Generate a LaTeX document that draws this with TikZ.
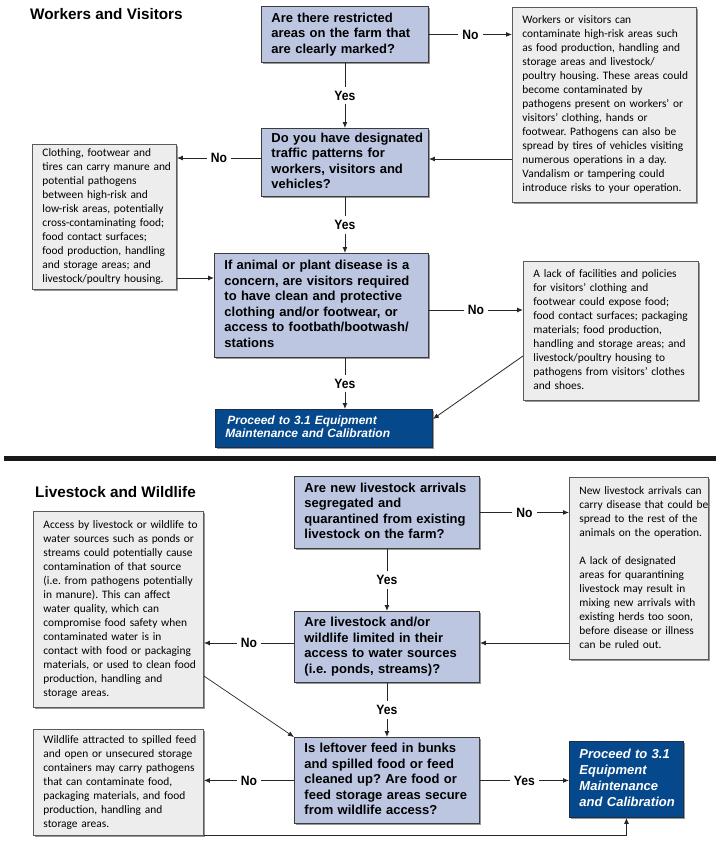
\documentclass[tikz,border=0pt]{standalone}
\usepackage{fontspec}
\setmainfont{Liberation Sans}
\newfontfamily\bodyfont{Carlito}
\newfontfamily\labfont[FakeStretch=0.9]{Liberation Sans}
\usetikzlibrary{arrows.meta,shadows}
\definecolor{qfill}{HTML}{BDC6E1}
\definecolor{qborder}{HTML}{3C3C3C}
\definecolor{gfill}{HTML}{EDEDED}
\definecolor{gborder}{HTML}{5A5A5A}
\definecolor{pfill}{HTML}{05488B}
\definecolor{pborder}{HTML}{1C2E4A}
\newcommand\boxlines[1]{\begin{tabular}{@{}l@{}}#1\end{tabular}}
\frenchspacing
\begin{document}
\begin{tikzpicture}[x=1pt,y=-1pt,
  shad/.style={drop shadow={shadow xshift=2pt,shadow yshift=-2pt,fill=black!45,opacity=0.9}},
  qbox/.style={draw=qborder,fill=qfill,line width=0.9pt,anchor=north west,align=left,
    inner xsep=10pt,inner ysep=0pt,font=\bfseries\fontsize{13}{15.5}\selectfont,shad},
  gbox/.style={draw=gborder,fill=gfill,line width=0.9pt,anchor=north west,align=left,
    inner xsep=10pt,inner ysep=0pt,font=\bodyfont\fontsize{11.4}{14}\selectfont,shad},
  pbox/.style={draw=pborder,fill=pfill,line width=0.9pt,anchor=north west,align=left,
    inner xsep=10pt,inner ysep=0pt,text=white,font=\bfseries\itshape\fontsize{12}{13.5}\selectfont,shad},
  ttl/.style={anchor=west,inner sep=0pt,font=\bfseries\fontsize{15.3}{18}\selectfont},
  arr/.style={-{Latex[length=6pt,width=5pt]},line width=0.9pt,draw=black!85},
  lab/.style={fill=white,font=\labfont\bfseries\fontsize{13.5}{15}\selectfont,inner xsep=4pt,inner ysep=4pt}]
\useasboundingbox (0,0) rectangle (720,844);

% ---------- Workers and Visitors ----------
\node[ttl] (t1) at (30,14) {Workers and Visitors};

\node[qbox,text width=147pt,minimum height=56pt] (Q1) at (261,6)
  {\boxlines{Are there restricted\\areas on the farm that\\are clearly marked?}};
\node[gbox,text width=164pt,minimum height=195pt] (R1) at (512,7)
  {\boxlines{Workers or visitors can\\contaminate high-risk areas such\\as food production, handling and\\storage areas and livestock/\\poultry housing. These areas could\\become contaminated by\\pathogens present on workers’ or\\visitors’ clothing, hands or\\footwear. Pathogens can also be\\spread by tires of vehicles visiting\\numerous operations in a day.\\Vandalism or tampering could\\introduce risks to your operation.}};
\node[qbox,text width=147pt,minimum height=68pt] (Q2) at (261,128)
  {\boxlines{Do you have designated\\traffic patterns for\\workers, visitors and\\vehicles?}};
\node[gbox,text width=124pt,minimum height=145pt] (L1) at (32,144)
  {\boxlines{Clothing, footwear and\\tires can carry manure and\\potential pathogens\\between high-risk and\\low-risk areas, potentially\\cross-contaminating food;\\food contact surfaces;\\food production, handling\\and storage areas; and\\livestock/poultry housing.}};
\node[qbox,text width=194pt,minimum height=104pt] (Q3) at (214,253)
  {\boxlines{If animal or plant disease is a\\concern, are visitors required\\to have clean and protective\\clothing and/or footwear, or\\access to footbath/bootwash/\\stations}};
\node[gbox,text width=155pt,minimum height=139pt] (R2) at (523,261)
  {\boxlines{A lack of facilities and policies\\for visitors’ clothing and\\footwear could expose food;\\food contact surfaces; packaging\\materials; food production,\\handling and storage areas; and\\livestock/poultry housing to\\pathogens from visitors’ clothes\\and shoes.}};
\node[pbox,text width=197pt,minimum height=38pt] (P1) at (215,409)
  {\boxlines{\,Proceed to 3.1 Equipment\\Maintenance and Calibration}};

\coordinate (a1) at (0,159);
\coordinate (a2) at (0,158);
\coordinate (a3) at (0,278);
\coordinate (a4) at (0,310);
\coordinate (a5) at (0,356);
\coordinate (a6) at (0,419);

\draw[arr] (Q1.east) -- node[lab]{No} (Q1.east -| R1.west);
\draw[arr] (Q1.south) -- node[lab]{Yes} (Q2.north);
\draw[arr] (a1 -| R1.west) -- (a1 -| Q2.east);
\draw[arr] (a2 -| Q2.west) -- node[lab]{No} (a2 -| L1.east);
\draw[arr] (Q2.south) -- node[lab]{Yes} (Q2.south |- Q3.north);
\draw[arr] (a3 -| L1.east) -- (a3 -| Q3.west);
\draw[arr] (a4 -| Q3.east) -- node[lab]{No} (a4 -| R2.west);
\draw[arr] (Q2.south |- Q3.south) -- node[lab]{Yes} (Q2.south |- P1.north);
\draw[arr,line width=0.8pt] (a5 -| R2.west) -- (a6 -| P1.east);

% ---------- separator ----------
\draw[line width=5pt,black!90] (4,458) -- (716,458);

% ---------- Livestock and Wildlife ----------
\node[ttl] (t2) at (35,492) {Livestock and Wildlife};

\node[qbox,text width=165pt,minimum height=72pt] (Q4) at (294,476)
  {\boxlines{Are new livestock arrivals\\segregated and\\quarantined from existing\\livestock on the farm?}};
\node[gbox,text width=119pt,minimum height=182pt] (R3) at (569,477)
  {\boxlines{New livestock arrivals can\\carry disease that could be\\spread to the rest of the\\animals on the operation.\\[14pt]A lack of designated\\areas for quarantining\\livestock may result in\\mixing new arrivals with\\existing herds too soon,\\before disease or illness\\can be ruled out.}};
\node[qbox,text width=165pt,minimum height=71pt] (Q5) at (294,611)
  {\boxlines{Are livestock and/or\\wildlife limited in their\\access to water sources\\(i.e. ponds, streams)?}};
\node[gbox,text width=150pt,minimum height=196pt] (L3) at (33,511)
  {\boxlines{Access by livestock or wildlife to\\water sources such as ponds or\\streams could potentially cause\\contamination of that source\\(i.e. from pathogens potentially\\in manure). This can affect\\water quality, which can\\compromise food safety when\\contaminated water is in\\contact with food or packaging\\materials, or used to clean food\\production, handling and\\storage areas.}};
\node[qbox,text width=165pt,minimum height=86pt] (Q6) at (294,737)
  {\boxlines{Is leftover feed in bunks\\and spilled food or feed\\cleaned up? Are food or\\feed storage areas secure\\from wildlife access?}};
\node[gbox,text width=150pt,minimum height=106pt] (L4) at (33,729)
  {\boxlines{Wildlife attracted to spilled feed\\and open or unsecured storage\\containers may carry pathogens\\that can contaminate food,\\packaging materials, and food\\production, handling and\\storage areas.}};
\node[pbox,text width=94pt,minimum height=76pt,font=\bfseries\itshape\fontsize{13}{16}\selectfont] (P2) at (569,741)
  {\boxlines{Proceed to 3.1\\Equipment\\Maintenance\\and Calibration}};

\coordinate (b1) at (0,643);
\coordinate (b2) at (0,676);

\draw[arr] (Q4.east) -- node[lab]{No} (Q4.east -| R3.west);
\draw[arr] (Q4.south) -- node[lab]{Yes} (Q5.north);
\draw[arr] (b1 -| R3.west) -- (b1 -| Q5.east);
\draw[arr] (b1 -| Q5.west) -- node[lab]{No} (b1 -| L3.east);
\draw[arr,line width=0.7pt] (b2 -| L3.east) -- (Q6.north west);
\draw[arr] (Q5.south) -- node[lab]{Yes} (Q6.north);
\draw[arr] (Q6.west) -- node[lab]{No} (Q6.west -| L4.east);
\draw[arr] (Q6.east) -- node[lab]{Yes} (Q6.east -| P2.west);
\draw[arr] (L4.south east) -| (P2.south);
\end{tikzpicture}
\end{document}
